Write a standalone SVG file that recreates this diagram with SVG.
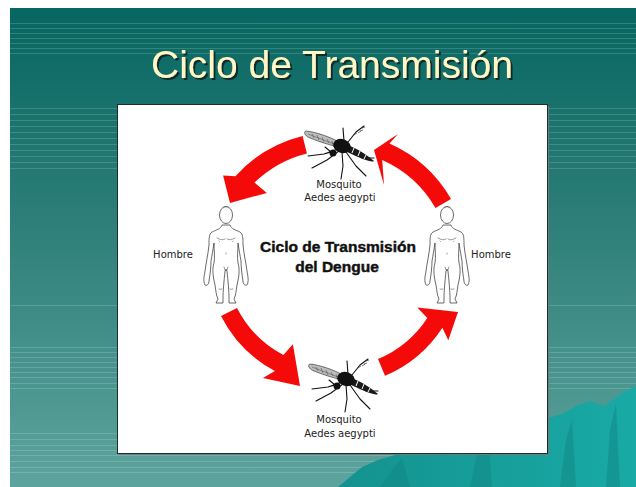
<svg xmlns="http://www.w3.org/2000/svg" xmlns:xlink="http://www.w3.org/1999/xlink" width="636" height="487" viewBox="0 0 636 487">
  <defs>
    <linearGradient id="bg" x1="0" y1="0" x2="0" y2="1">
      <stop offset="0" stop-color="#066661"/>
      <stop offset="0.45" stop-color="#2e7f79"/>
      <stop offset="1" stop-color="#5ea49e"/>
    </linearGradient>
    <linearGradient id="hill" x1="0" y1="0" x2="1" y2="0">
      <stop offset="0" stop-color="#14928f"/>
      <stop offset="1" stop-color="#19aaa6"/>
    </linearGradient>
    <filter id="shadow" x="-5%" y="-20%" width="110%" height="140%">
      <feDropShadow dx="2" dy="2" stdDeviation="0.6" flood-color="#0b1e1e" flood-opacity="0.85"/>
    </filter>
    <style>
      .stripe { stroke: #ffffff; stroke-opacity: 0.16; stroke-width: 1; }
      .title { font-family: "Liberation Sans", Arial, sans-serif; font-size: 39px; text-anchor: middle; fill: #fff8c6; }
      .label { font-family: "DejaVu Sans", "Liberation Sans", sans-serif; font-size: 10px; fill: #222; text-anchor: middle; }
      .center { font-family: "Liberation Sans", Arial, sans-serif; font-size: 15.5px; font-weight: bold; fill: #111; stroke: #111; stroke-width: 0.45; text-anchor: middle; }
      .arrow { fill: #f50a0a; }
      .body { fill: #ffffff; stroke: #444; stroke-width: 0.8; stroke-linejoin: round; }
      .detail { fill: none; stroke: #555; stroke-width: 0.6; stroke-linecap: round; }
      .leg { fill: none; stroke: #111; stroke-width: 1.1; stroke-linecap: round; stroke-linejoin: round; }
    </style>
    <!-- outline human figure, origin at top of head -->
    <g id="human">
      <path class="body" d="M -4,20 C -5,24 -10,25 -14,27 C -17,29 -17,33 -17,40 C -18,50 -20,58 -21,66 C -22,72 -23,76 -21,80 C -19,81 -17,79 -17,76 C -16,70 -15,62 -15,56 C -14,50 -13,45 -12,38 C -12,46 -11,52 -12,58 C -14,64 -13,72 -11,80 C -10,86 -10,90 -8,94 L -10,98 L -3,98 L -3,93 C -3,86 -2,76 -1,66 L 0,64 L 1,66 C 2,76 3,86 3,93 L 3,98 L 10,98 L 8,94 C 10,90 10,86 11,80 C 13,72 14,64 12,58 C 11,52 12,46 12,38 C 13,45 14,50 15,56 C 15,62 16,70 17,76 C 17,79 19,81 21,80 C 23,76 22,72 21,66 C 20,58 18,50 17,40 C 17,33 17,29 14,27 C 10,25 5,24 4,20 Z"/>
      <ellipse class="body" cx="0" cy="10" rx="6.5" ry="8.5"/>
      <path class="detail" d="M -9,33 Q -4,36 -1,34 M 9,33 Q 4,36 1,34 M -7,36 l 0.5,0.5 M 7,36 l -0.5,0.5 M 0,48 l 0,1 M -2,62 Q 0,70 2,62 M -7,84 q 2,1 3,0 M 7,84 q -2,1 -3,0 M -3,3 q 3,-3 6,0"/>
    </g>
    <!-- mosquito in side view, origin at the thorax -->
    <g id="mosquito">
      <path d="M -3,-4 C -12,-9 -26,-14 -36,-15 C -39,-14 -37,-10 -32,-8 C -22,-4 -12,-1 -4,1 Z" fill="#bdbdbd" stroke="#222" stroke-width="0.6"/>
      <path d="M -30,-12 L -28,-8 M -25,-11 L -23,-6 M -20,-9 L -18,-4 M -15,-7 L -13,-3 M -10,-5 L -9,-1 M -34,-12 L -8,-2" fill="none" stroke="#444" stroke-width="0.5"/>
      <path class="leg" d="M 2,-5 L 1,-18 M 6,-4 L 14,-14 L 22,-20 M -4,3 L -18,8 L -34,10 M -3,5 L -15,14 L -30,22 M 0,6 L 1,20 L -1,33 M 4,6 L 14,20 L 24,30 M 8,4 L 20,12 L 32,12 M -11,6 L -17,1 M -11,6 L -18,8"/>
      <path d="M 16,-13 l 3,-2 M 18,-15 l 3,-1 M 20,-18 l 3,-1 M 12,-11 l 3,-2" fill="none" stroke="#222" stroke-width="0.6"/>
      <path d="M 5,-1 C 14,2 24,8 32,15 C 30,17 20,13 5,6 Z" fill="#1a1a1a"/>
      <path d="M 12,2 l -2,5 M 18,5 l -2,5 M 24,9 l -2,4" stroke="#ffffff" stroke-width="1" fill="none"/>
      <ellipse cx="0" cy="0" rx="9" ry="7" transform="rotate(20)" fill="#111"/>
      <circle cx="-9" cy="7" r="3.5" fill="#111"/>
    </g>
  </defs>

  <!-- slide background -->
  <rect x="10" y="8" width="626" height="479" fill="url(#bg)"/>
  <g id="stripes">
    <path class="stripe" d="M10,23.5H636 M10,28.5H636 M10,33.5H636 M10,38.5H636 M10,43.5H636 M10,48.5H636 M10,53.5H636
      M10,108.5H636 M10,114.5H636 M10,120.5H636 M10,126.5H636 M10,132.5H636 M10,138.5H636 M10,144.5H636 M10,150.5H636 M10,156.5H636 M10,162.5H636 M10,168.5H636
      M10,305.5H636 M10,347.5H636 M10,352.5H636 M10,357.5H636 M10,362.5H636 M10,367.5H636 M10,372.5H636 M10,377.5H636 M10,383.5H636 M10,388.5H636
      M10,433.5H636 M10,439.5H636 M10,445.5H636 M10,450.5H636 M10,455.5H636 M10,461.5H636 M10,467.5H636 M10,472.5H636"/>
  </g>
  <g id="hills">
    <path d="M338,487 L350,477 L362,467 L378,460 L395,455 L420,445 L450,436 L480,430 L510,424 L548,418 L562,414 L576,406 L590,401 L604,406 L614,399 L624,392 L636,386 L636,487 Z" fill="url(#hill)"/>
    <path d="M380,487 L392,470 L402,458 L410,487 Z M470,487 L478,450 L488,436 L492,487 Z M560,487 L566,440 L572,420 L576,487 Z M606,487 L610,430 L616,404 L620,487 Z" fill="#0f8683" opacity="0.5"/>
  </g>

  <!-- title -->
  <text class="title" x="332" y="78" filter="url(#shadow)">Ciclo de Transmisión</text>

  <!-- white card -->
  <rect x="119" y="106" width="430" height="349" fill="#6f7b7b"/>
  <rect x="117.5" y="104.5" width="430" height="349" fill="#ffffff" stroke="#1c2e2e" stroke-width="1"/>

  <g id="connectors">
    <path class="arrow" d="M302.6,136 A134,134 0 0 0 235.4,176.3 L223.1,175.4 L230,203 L266.8,192.9 L254.4,182.6 A116,116 0 0 1 306.9,153.4 Z"/>
    <path class="arrow" d="M451,199 A134,134 0 0 0 389.5,143.6 L398,134 L374,150 L384,185 L382.2,160 A116,116 0 0 1 435.5,208 Z"/>
    <path class="arrow" d="M221,316 A128,128 0 0 0 274.9,371 L262.9,378 L300,386 L292.9,344.3 L283.4,355.1 A110,110 0 0 1 237,308 Z"/>
    <path class="arrow" d="M385,375.8 A128,128 0 0 0 442.4,327.7 L448.3,340.3 L458,312 L417.3,307.4 L427.3,317.9 A110,110 0 0 1 378,359 Z"/>
  </g>

  <g id="mosquito-top">
    <use xlink:href="#mosquito" transform="translate(342,146)"/>
    <text class="label" x="339" y="188">Mosquito</text>
    <text class="label" x="340" y="201">Aedes aegypti</text>
  </g>
  <g id="mosquito-bottom">
    <use xlink:href="#mosquito" transform="translate(346,379)"/>
    <text class="label" x="339" y="423">Mosquito</text>
    <text class="label" x="340" y="437">Aedes aegypti</text>
  </g>
  <g id="human-left">
    <use xlink:href="#human" transform="translate(226,205)"/>
    <text class="label" x="173" y="258">Hombre</text>
  </g>
  <g id="human-right">
    <use xlink:href="#human" transform="translate(447,205)"/>
    <text class="label" x="491" y="258">Hombre</text>
  </g>
  <g id="cycle-title">
    <text class="center" x="338" y="252">Ciclo de Transmisión</text>
    <text class="center" x="337" y="272">del Dengue</text>
  </g>
</svg>
